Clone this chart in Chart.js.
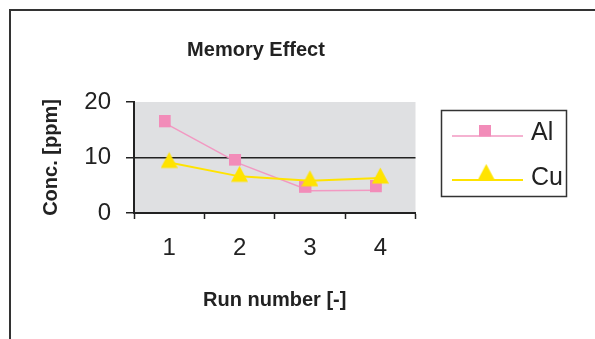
<!DOCTYPE html>
<html>
<head>
<meta charset="utf-8">
<title>Memory Effect</title>
<script src="https://cdn.jsdelivr.net/npm/chart.js@4/dist/chart.umd.min.js"></script>
<style>
  html, body { margin: 0; padding: 0; background: #ffffff; }
  #wrap { width: 595px; height: 339px; }
</style>
</head>
<body>
<div id="wrap"><canvas id="chart" width="595" height="339"></canvas></div>
<script>
// Concentration measured after each run
const runs = ['1', '2', '3', '4'];
const alConc = [15.8, 8.9, 4.0, 4.1];
const cuConc = [9.1, 6.6, 5.8, 6.3];
const yTicks = [0, 10, 20];

const seriesNames = ['Al', 'Cu'];
const AL_COLOR = '#f28cb9';
const AL_LINE = '#f299c2';
const CU_COLOR = '#ffe300';
const INK = '#222222';
const FONT = '"Liberation Sans", Arial, Helvetica, sans-serif';

// Square marker, sitting a little up and to the left of its point
function makeSquare() {
  const c = document.createElement('canvas');
  c.width = 21; c.height = 20;
  const g = c.getContext('2d');
  g.fillStyle = AL_COLOR;
  g.fillRect(0, 0, 12, 12);
  return c;
}
// Triangle marker, slightly wider than equilateral
function makeTriangle() {
  const c = document.createElement('canvas');
  c.width = 17; c.height = 22;
  const g = c.getContext('2d');
  g.fillStyle = CU_COLOR;
  g.beginPath();
  g.moveTo(8.5, 0.5);
  g.lineTo(17, 16.5);
  g.lineTo(0, 16.5);
  g.closePath();
  g.fill();
  return c;
}
const squareMark = makeSquare();
const triangleMark = makeTriangle();

// Grey plot background and the outer frame
const backdrop = {
  id: 'backdrop',
  beforeDraw(chart) {
    const { ctx, chartArea: a } = chart;
    ctx.save();
    ctx.fillStyle = '#dfe0e2';
    ctx.fillRect(a.left, a.top, a.right - a.left, a.bottom - a.top);
    ctx.strokeStyle = '#333333';
    ctx.lineWidth = 2;
    ctx.beginPath();
    ctx.moveTo(10, 345);
    ctx.lineTo(10, 10);
    ctx.lineTo(600, 10);
    ctx.stroke();
    ctx.restore();
  }
};

// Boxed legend: line sample with its marker, then the series name
const boxLegend = {
  id: 'boxLegend',
  afterDraw(chart) {
    const { ctx } = chart;
    ctx.save();
    ctx.strokeStyle = '#333333';
    ctx.lineWidth = 1.5;
    ctx.strokeRect(441.5, 110.5, 125, 86);
    const rows = [
      { lineY: 136, textY: 133, mark: squareMark, mx: 479, my: 124.5 },
      { lineY: 180, textY: 178, mark: triangleMark, mx: 477.7, my: 163.5 }
    ];
    chart.data.datasets.forEach((ds, i) => {
      const r = rows[i];
      ctx.strokeStyle = ds.borderColor;
      ctx.lineWidth = ds.borderWidth;
      ctx.beginPath();
      ctx.moveTo(452, r.lineY);
      ctx.lineTo(523, r.lineY);
      ctx.stroke();
      ctx.drawImage(r.mark, r.mx, r.my);
      ctx.fillStyle = INK;
      ctx.font = '25px ' + FONT;
      ctx.textAlign = 'left';
      ctx.textBaseline = 'middle';
      ctx.fillText(ds.label, 531, r.textY);
    });
    ctx.restore();
  }
};

new Chart(document.getElementById('chart'), {
  type: 'line',
  data: {
    labels: runs,
    datasets: [
      {
        label: seriesNames[0],
        data: alConc,
        borderColor: AL_LINE,
        borderWidth: 1.5,
        pointStyle: squareMark,
        pointRadius: 7,
        tension: 0,
        order: 2
      },
      {
        label: seriesNames[1],
        data: cuConc,
        borderColor: CU_COLOR,
        borderWidth: 2,
        pointStyle: triangleMark,
        pointRadius: 9,
        tension: 0,
        order: 1
      }
    ]
  },
  options: {
    responsive: false,
    animation: false,
    devicePixelRatio: 1,
    layout: { padding: { left: 10, top: 10, right: 93, bottom: 0 } },
    plugins: {
      legend: { display: false },
      tooltip: { enabled: false },
      title: {
        display: true,
        text: 'Memory Effect',
        color: INK,
        font: { family: FONT, size: 20, weight: 'bold' },
        padding: { top: 28, bottom: 40 }
      }
    },
    scales: {
      x: {
        type: 'category',
        offset: true,
        grid: {
          offset: true,
          drawOnChartArea: false,
          drawTicks: true,
          tickLength: 6,
          tickColor: INK,
          tickWidth: 1.5
        },
        border: { display: true, color: INK, width: 2 },
        ticks: {
          color: INK,
          font: { family: FONT, size: 24 },
          padding: 15,
          maxRotation: 0
        },
        title: {
          display: true,
          text: 'Run number [-]',
          color: INK,
          font: { family: FONT, size: 20, weight: 'bold' },
          padding: { top: 0, bottom: 27 }
        },
        afterFit(scale) { scale.height = 126; }
      },
      y: {
        min: yTicks[0],
        max: yTicks[yTicks.length - 1],
        afterBuildTicks(scale) { scale.ticks = yTicks.map(v => ({ value: v })); },
        grid: {
          color: ctx => (ctx.tick && ctx.tick.value === 10 ? INK : 'rgba(0,0,0,0)'),
          lineWidth: 1.5,
          drawTicks: true,
          tickLength: 8,
          tickColor: INK,
          tickWidth: 1.5
        },
        border: { display: true, color: INK, width: 2 },
        ticks: {
          color: INK,
          font: { family: FONT, size: 24 },
          padding: 15
        },
        title: {
          display: true,
          text: 'Conc. [ppm]',
          color: INK,
          font: { family: FONT, size: 20, weight: 'bold' },
          padding: { top: 29, bottom: 0 }
        },
        afterFit(scale) { scale.width = 124; }
      },
      gutter: {
        type: 'linear',
        position: 'right',
        display: true,
        grid: { display: false, drawTicks: false },
        border: { display: false },
        ticks: { display: false },
        afterFit(scale) { scale.width = 86.5; }
      }
    }
  },
  plugins: [backdrop, boxLegend]
});
</script>
</body>
</html>
